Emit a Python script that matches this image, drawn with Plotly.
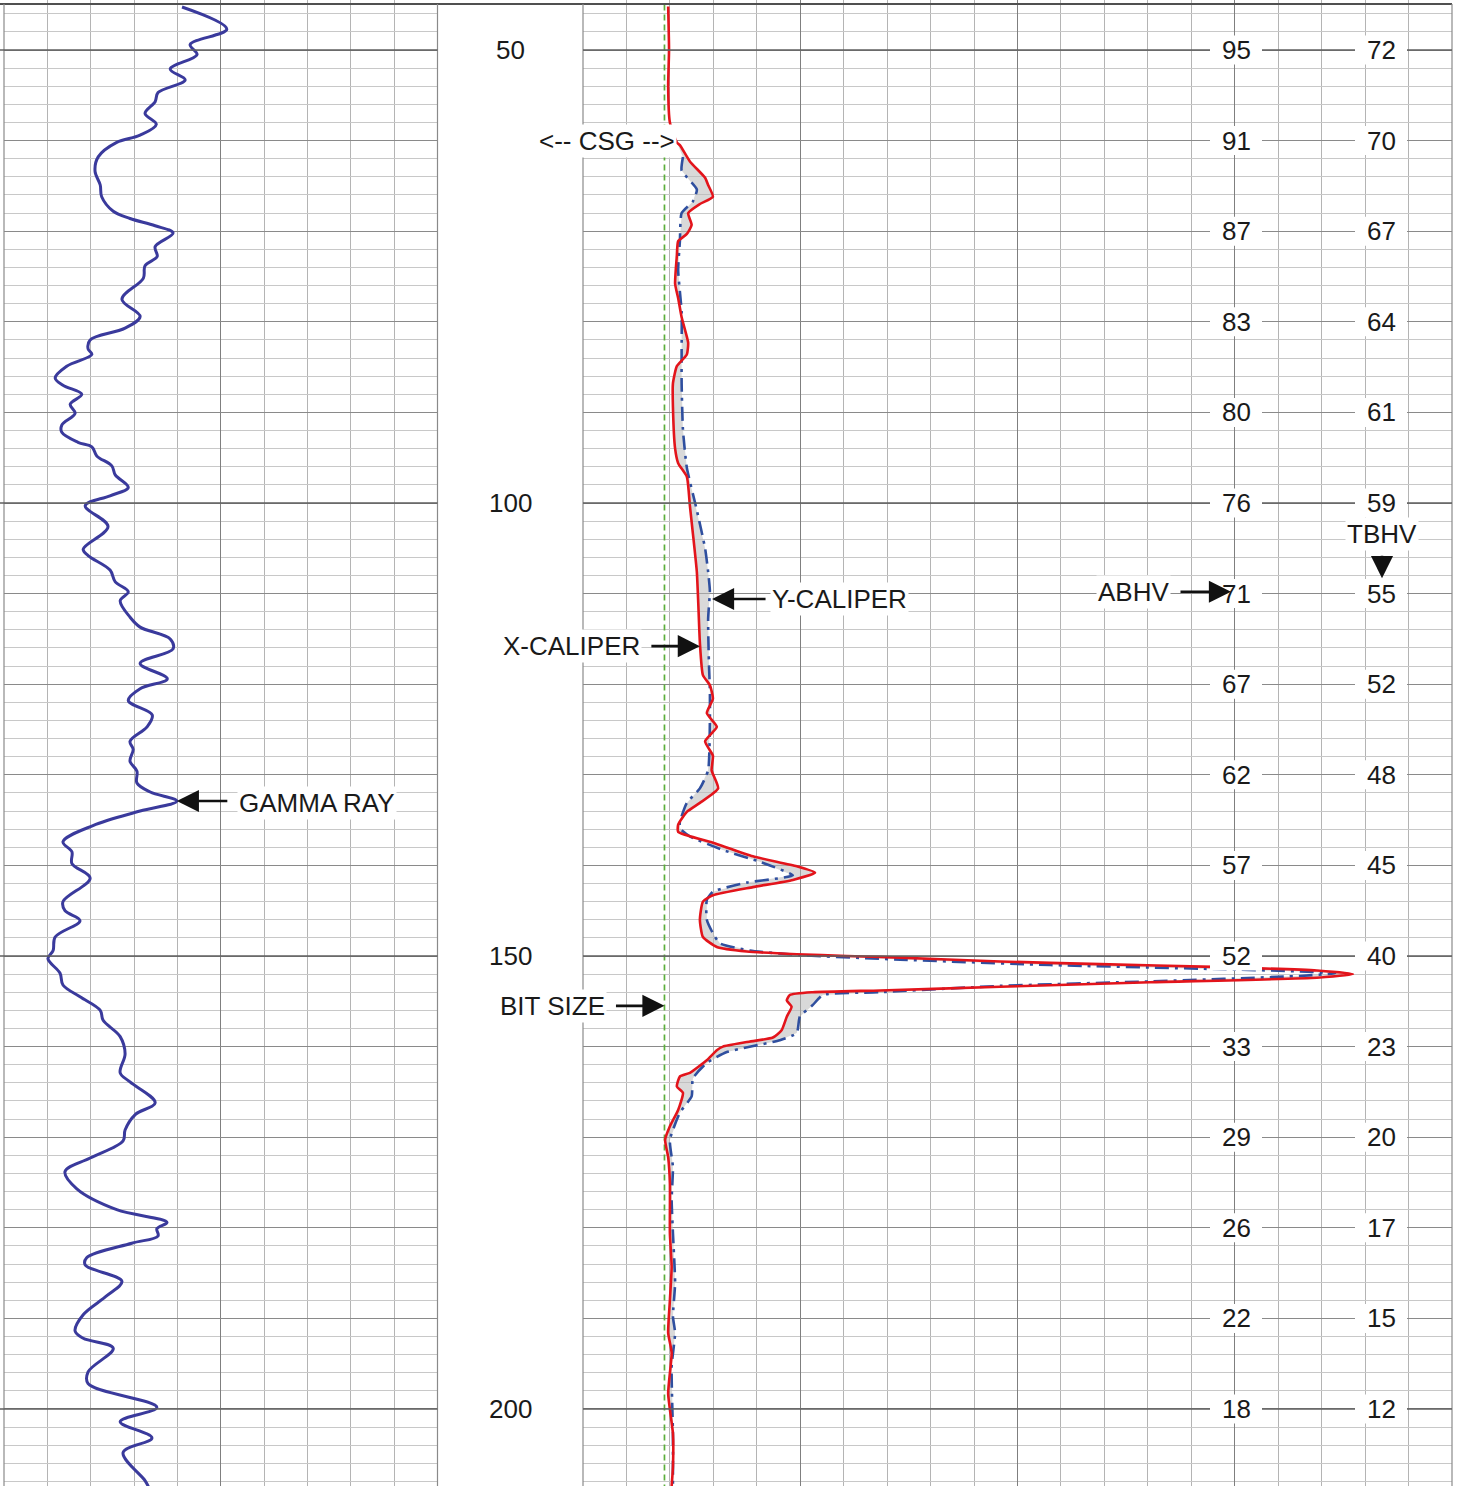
import plotly.graph_objects as go

W, H = 1461, 1486

# ---- Gamma ray (API) vs depth ----
GR_DEPTH = [45.25, 47.7, 49.4, 50.5, 52.1, 53.3, 54.7, 55.7, 57.0, 58.2,
            59.4, 60.2, 61.8, 63.4, 64.9, 66.2, 67.8, 68.6, 69.4, 70.2,
            71.7, 72.8, 73.8, 75.2, 77.5, 79.4, 80.7, 82.0, 83.0, 83.6,
            84.9, 86.2, 87.0, 88.0, 89.1, 90.1, 91.4, 92.2, 93.3, 93.8,
            94.8, 95.9, 96.9, 98.3, 99.2, 100.3, 102.6, 105.1, 105.8, 107.4,
            108.7, 109.8, 110.8, 112.6, 113.7, 115.0, 116.1, 117.7, 119.4, 120.5,
            121.8, 123.4, 124.7, 126.3, 127.2, 128.5, 129.6, 130.9, 131.9, 132.9,
            134.0, 135.6, 137.4, 138.5, 139.8, 141.4, 144.0, 145.0, 146.1, 147.9,
            149.4, 150.3, 151.9, 153.2, 154.5, 156.0, 157.1, 158.9, 160.8, 162.9,
            163.9, 166.2, 167.5, 169.2, 170.4, 172.3, 173.8, 175.7, 178.0, 179.4,
            180.1, 180.9, 181.7, 183.3, 184.1, 185.9, 187.5, 189.6, 191.4, 192.2,
            193.3, 195.9, 197.2, 199.8, 201.4, 203.2, 204.8, 207.9, 208.6]
GR_API = [61.6, 77.1, 64.4, 66.8, 57.5, 62.7, 53.3, 52.3, 48.8, 52.7,
          47.1, 39.0, 32.6, 31.5, 33.3, 33.8, 37.8, 43.6, 52.3, 58.5,
          52.3, 53.0, 48.8, 48.2, 40.8, 47.1, 41.9, 29.8, 29.1, 30.4,
          21.7, 17.7, 20.4, 26.9, 22.9, 24.6, 20.0, 20.0, 25.6, 30.4,
          32.1, 37.3, 38.5, 43.0, 36.7, 28.1, 36.0, 27.4, 29.1, 36.7,
          38.5, 43.0, 40.2, 43.6, 47.1, 57.5, 58.5, 47.1, 56.5, 47.1,
          43.0, 51.3, 49.5, 43.6, 44.7, 43.6, 46.0, 46.0, 50.6, 59.8,
          47.1, 30.8, 20.4, 23.5, 23.5, 29.8, 20.4, 21.1, 26.3, 17.7,
          17.0, 15.2, 19.4, 20.4, 26.3, 33.3, 34.3, 40.2, 41.9, 40.2,
          43.6, 52.3, 45.4, 41.9, 41.2, 29.8, 21.1, 25.2, 39.0, 56.4,
          52.9, 53.3, 44.2, 28.6, 28.1, 40.8, 35.6, 27.4, 24.6, 27.4,
          37.8, 29.1, 29.1, 52.9, 40.2, 51.2, 41.2, 48.8, 50.0]

# ---- X-caliper (inches) vs depth, including the cased section ----
XCAL_DEPTH = [45.2, 50.0, 54.0, 58.0,
              60.2, 60.5, 62.3, 64.1, 64.9, 66.2, 67.0, 68.0, 69.3, 70.3,
              71.1, 72.7, 75.8, 77.4, 79.5, 82.3, 83.6, 84.9, 86.8, 89.4,
              94.0, 95.6, 97.1, 100.3, 103.4, 107.6, 110.7, 115.4, 119.0, 120.1,
              121.6, 123.2, 124.7, 126.3, 127.9, 129.5, 131.5, 133.1, 134.1, 135.5,
              136.3, 137.5, 139.0, 140.1, 140.8, 141.6, 142.4, 143.3, 144.0, 146.0,
              147.9, 149.0, 149.5, 149.8, 150.0, 150.1, 150.6, 150.9, 151.2, 151.6,
              152.0, 152.4, 152.9, 153.4, 153.8, 154.0, 154.3, 154.9, 155.6, 156.7,
              158.2, 159.0, 159.5, 160.0, 160.4, 161.5, 162.9, 163.3, 164.4, 165.1,
              167.0, 168.8, 170.3, 172.2, 175.1, 180.6, 184.3, 188.0, 191.6, 193.8,
              198.3, 202.7, 206.4, 208.5]
XCAL_IN = [7.96, 7.98, 7.96, 8.00,
           8.16, 8.23, 8.46, 8.81, 8.88, 8.99, 8.69, 8.42, 8.50, 8.39,
           8.19, 8.16, 8.12, 8.19, 8.27, 8.42, 8.39, 8.16, 8.07, 8.07,
           8.12, 8.19, 8.39, 8.46, 8.53, 8.62, 8.65, 8.69, 8.76, 8.92,
           8.99, 8.85, 9.08, 8.81, 8.99, 8.96, 9.11, 8.69, 8.39, 8.19,
           8.19, 8.99, 9.91, 10.92, 11.34, 10.83, 9.91, 8.99, 8.76, 8.69,
           8.76, 9.08, 9.77, 10.92, 12.07, 12.84, 15.60, 17.90, 20.50, 22.89,
           23.72, 22.89, 19.05, 15.60, 12.84, 11.29, 10.76, 10.69, 10.80, 10.69,
           10.57, 10.37, 9.77, 9.22, 9.08, 8.85, 8.46, 8.23, 8.16, 8.30,
           8.19, 8.00, 7.89, 7.96, 8.00, 8.00, 8.04, 8.00, 7.96, 8.04,
           7.96, 8.07, 8.07, 8.04]

# ---- Y-caliper (inches) vs depth, open hole only ----
YCAL_DEPTH = [61.8, 63.3, 65.4, 66.7, 68.0, 71.1, 74.3, 78.9, 83.1, 86.8,
              91.9, 96.1, 100.8, 105.0, 107.6, 109.7, 112.8, 118.0, 120.6, 124.2,
              129.5, 131.5, 133.1, 135.2, 135.9, 136.8, 138.3, 139.6, 141.1, 141.9,
              142.9, 143.8, 146.0, 147.5, 148.6, 149.4, 149.9, 150.4, 151.0, 151.4,
              151.7, 151.9, 152.2, 152.8, 153.3, 154.0, 154.3, 155.4, 156.7, 158.5,
              159.3, 160.6, 161.8, 163.5, 165.5, 167.3, 170.3, 173.3, 176.9, 180.6,
              186.1, 189.8, 191.6, 195.3, 202.7, 208.5]
YCAL_IN = [8.30, 8.27, 8.62, 8.53, 8.27, 8.23, 8.19, 8.27, 8.27, 8.27,
           8.30, 8.39, 8.62, 8.81, 8.88, 8.92, 8.88, 8.90, 8.92, 8.92,
           8.88, 8.69, 8.39, 8.23, 8.23, 8.46, 9.22, 10.07, 10.83, 9.77,
           8.99, 8.85, 8.85, 8.99, 9.15, 9.84, 10.99, 13.30, 16.75, 20.20,
           22.50, 23.31, 22.50, 19.05, 15.60, 12.84, 11.52, 11.29, 10.99, 10.92,
           10.53, 9.31, 8.85, 8.53, 8.50, 8.23, 8.00, 8.07, 8.04, 8.07,
           8.12, 8.07, 8.12, 8.04, 8.07, 8.07]

BIT_SIZE = 7.875

# ---- Depth annotations and hole-volume integrators ----
DEPTH_LABELS = [50, 100, 150, 200]
VOL_DEPTHS = [50, 60, 70, 80, 90, 100, 110, 120, 130, 140, 150, 160, 170, 180, 190, 200]
ABHV = [95, 91, 87, 83, 80, 76, 71, 67, 62, 57, 52, 33, 29, 26, 22, 18]
TBHV = [72, 70, 67, 64, 61, 59, 55, 52, 48, 45, 40, 23, 20, 17, 15, 12]

# depth range shown
TOP_D, BOT_D = 44.48, 208.5

FONT = "Arial, Liberation Sans, Helvetica, sans-serif"
TXT = "#1a1a1a"


def px(x):
    return x / W


fig = go.Figure()

# gamma ray track
fig.add_trace(go.Scatter(
    x=GR_API, y=GR_DEPTH, mode="lines", xaxis="x", yaxis="y",
    line=dict(color="#3a3a9c", width=3, shape="spline", smoothing=1.0),
    hoverinfo="skip"))

# shading between the two caliper arms (open hole only)
open_x = [(d, c) for d, c in zip(XCAL_DEPTH, XCAL_IN) if d >= 60]
fill_d = [d for d, _ in open_x] + YCAL_DEPTH[::-1]
fill_c = [c for _, c in open_x] + YCAL_IN[::-1]
fig.add_trace(go.Scatter(
    x=fill_c, y=fill_d, mode="lines", xaxis="x2", yaxis="y2",
    fill="toself", fillcolor="rgba(185,185,185,0.55)",
    line=dict(width=0), hoverinfo="skip"))

# bit size reference
fig.add_trace(go.Scatter(
    x=[BIT_SIZE, BIT_SIZE], y=[TOP_D + 0.5, BOT_D], mode="lines",
    xaxis="x2", yaxis="y2",
    line=dict(color="#5cae3c", width=1.7, dash="6px,4px"), hoverinfo="skip"))

# Y caliper (dash-dot) under X caliper (solid)
fig.add_trace(go.Scatter(
    x=YCAL_IN, y=YCAL_DEPTH, mode="lines", xaxis="x2", yaxis="y2",
    line=dict(color="#2f4f9f", width=2.6, dash="14px,6px,3px,6px",
              shape="spline", smoothing=0.5),
    hoverinfo="skip"))
fig.add_trace(go.Scatter(
    x=XCAL_IN, y=XCAL_DEPTH, mode="lines", xaxis="x2", yaxis="y2",
    line=dict(color="#e3141b", width=2.6, shape="spline", smoothing=0.5),
    hoverinfo="skip"))

ygrid = dict(
    range=[BOT_D, TOP_D], domain=[0, 1], tick0=0, dtick=10,
    showgrid=True, gridcolor="#8a8a8a", gridwidth=1,
    showticklabels=False, ticks="", zeroline=False, showline=False,
    minor=dict(tick0=0, dtick=2, showgrid=True, gridcolor="#c8c8c8", gridwidth=1, ticks=""),
    fixedrange=True)

fig.update_layout(
    width=W, height=H, autosize=False,
    margin=dict(l=0, r=0, t=0, b=0, pad=0),
    paper_bgcolor="white", plot_bgcolor="white", showlegend=False,
    xaxis=dict(domain=[px(4), px(437.5)], range=[0, 150], anchor="y",
               tick0=0, dtick=75, showgrid=True, gridcolor="#7f7f7f", gridwidth=1,
               minor=dict(tick0=0, dtick=15, showgrid=True, gridcolor="#b4b4b4", gridwidth=1, ticks=""),
               showticklabels=False, ticks="", zeroline=False, showline=False, fixedrange=True),
    yaxis=dict(anchor="x", **ygrid),
    xaxis2=dict(domain=[px(583), px(1452)], range=[6, 26], anchor="y2",
                tick0=6, dtick=5, showgrid=True, gridcolor="#7f7f7f", gridwidth=1,
                minor=dict(tick0=6, dtick=1, showgrid=True, gridcolor="#b4b4b4", gridwidth=1, ticks=""),
                showticklabels=False, ticks="", zeroline=False, showline=False, fixedrange=True),
    yaxis2=dict(anchor="x2", matches="y", **ygrid),
)

shapes = []
# top border across all tracks
shapes.append(dict(type="line", xref="paper", yref="y", x0=0, x1=px(1452),
                   y0=44.92, y1=44.92, line=dict(color="#505050", width=2)))
# track borders
for xb in (4, 437.5, 583, 1452):
    shapes.append(dict(type="line", xref="paper", yref="paper", x0=px(xb), x1=px(xb),
                       y0=0, y1=1 - 4 / H, line=dict(color="#8a8a8a", width=1.2)))
# heavier every-50 depth lines
for d in DEPTH_LABELS:
    for a, b in ((0, 437.5), (583, 1452)):
        shapes.append(dict(type="line", xref="paper", yref="y", x0=px(a), x1=px(b),
                           y0=d, y1=d, line=dict(color="#5f5f5f", width=1.6)))
# white blocks behind the hole-volume numbers
VOL_COLS = (1236, 1381)
for d in VOL_DEPTHS:
    for xc in VOL_COLS:
        shapes.append(dict(type="rect", xref="paper", yref="y", layer="above",
                           x0=px(xc - 26), x1=px(xc + 26), y0=d - 1.6, y1=d + 1.6,
                           fillcolor="white", line=dict(width=0)))
fig.update_layout(shapes=shapes)

ann = []
# depth track numbers
for d in DEPTH_LABELS:
    ann.append(dict(x=px(510), y=d, xref="paper", yref="y", text=str(d), showarrow=False,
                    font=dict(family=FONT, size=26, color=TXT)))

# hole volume columns
for d, a, t in zip(VOL_DEPTHS, ABHV, TBHV):
    for xc, v in zip(VOL_COLS, (a, t)):
        ann.append(dict(x=px(xc), y=d, xref="paper", yref="y", text=str(v),
                        showarrow=False, xanchor="center",
                        font=dict(family=FONT, size=26, color=TXT)))

# curve labels
def label(text, xp, d, anchor):
    return dict(x=px(xp), y=d, xref="paper", yref="y", text=text, showarrow=False,
                xanchor=anchor, bgcolor="white", borderpad=1,
                font=dict(family=FONT, size=26, color=TXT))

ann += [
    label("GAMMA RAY", 237, 133.1, "left"),
    label("Y-CALIPER", 770, 110.6, "left"),
    label("X-CALIPER", 642, 115.8, "right"),
    label("BIT SIZE", 607, 155.5, "right"),
    label("&lt;-- CSG --&gt;", 607, 60.04, "center"),
    label("ABHV", 1171, 109.8, "right"),
    label("TBHV", 1382, 103.4, "center"),
]

# pointer arrows
def arrow(x, y, xref, ax, ay):
    return dict(x=x, y=y, xref=xref, yref="y", text="", showarrow=True,
                ax=ax, ay=ay, arrowhead=2, arrowsize=1.7, arrowwidth=2.6,
                arrowcolor="#111111", standoff=0, startstandoff=0)

gr_peak = GR_API.index(59.8)
ann += [
    arrow(GR_API[gr_peak], GR_DEPTH[gr_peak], "x", 52, 0),
    arrow(8.97, 110.6, "x2", 55, 0),
    arrow(8.69, 115.8, "x2", -50, 0),
    arrow(BIT_SIZE, 155.5, "x2", -50, 0),
    arrow(px(1231), 109.8, "paper", -52, 0),
    arrow(px(1382), 108.3, "paper", 0, -24),
]
fig.update_layout(annotations=ann)

fig.write_html("out.html", include_plotlyjs=True, config={"displayModeBar": False})
